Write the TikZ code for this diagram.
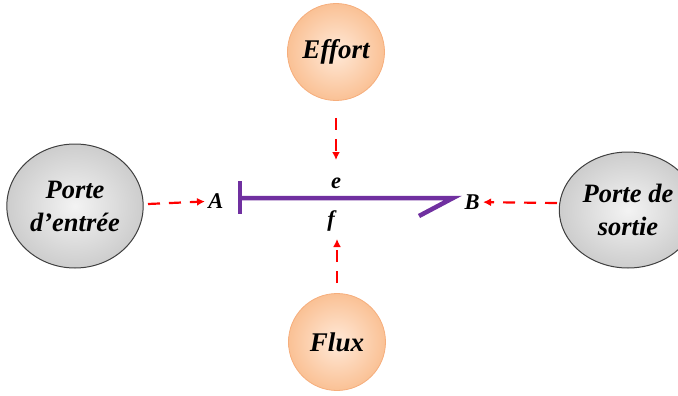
\documentclass[tikz,border=0pt]{standalone}
\usepackage{fontspec}
\setmainfont{Liberation Serif}
\usepackage{tikz}
\usetikzlibrary{positioning, arrows.meta, shapes.geometric}
\definecolor{peachin}{HTML}{FFE9D8}
\definecolor{peachout}{HTML}{FAC195}
\definecolor{peachline}{HTML}{F6AE7C}
\definecolor{greyin}{HTML}{F3F3F3}
\definecolor{greyout}{HTML}{CDCDCD}
\definecolor{bondcol}{HTML}{7030A0}

\begin{document}
\begin{tikzpicture}[
    x=1pt, y=-1pt,
    every node/.style={font=\bfseries\itshape},
    orangeball/.style={circle, draw=peachline, line width=0.8pt, inner color=peachin, outer color=peachout, minimum size=97pt, align=center, font=\fontsize{27}{29}\selectfont\bfseries\itshape},
    greyball/.style={ellipse, draw=black!75, line width=1pt, inner color=greyin, outer color=greyout, minimum width=124pt, minimum height=124pt, align=center, font=\fontsize{26.5}{33}\selectfont\bfseries\itshape},
    portlbl/.style={font=\fontsize{22.5}{23}\selectfont\bfseries\itshape},
    bond/.style={draw=bondcol, line width=4.5pt},
    arr/.style={-{Latex[length=8pt, width=8pt]}, red, line width=2.2pt, dash pattern=on 12pt off 9pt}
]
\useasboundingbox (0,0) rectangle (678,396);

\node[orangeball] (effort) at (336,52) {Effort};
\node[orangeball] (flux) at (337,342) {Flux};
\node[greyball] (entree) at (75,206) {Porte\\d'entrée};
\node[greyball, minimum width=130pt, minimum height=116pt] (sortie) at (628,210) {Porte de\\sortie};

% bond
\coordinate (bl) at (240,198);
\coordinate (br) at (453,198);
\coordinate (bt) at (240,181);
\coordinate (bb) at (240,214);
\coordinate (hb) at (419,216);
\draw[bond] (bt) -- (bb);
\draw[bond, line join=miter] (bl) -- (br) -- (hb);

\node[portlbl] (A) at (216,201) {A};
\node[portlbl] (B) at (472,202) {B};
\node[portlbl] (e) at (336,183) {e};
\node[portlbl] (f) at (331,221) {f};

\coordinate (ein) at (336,160);
\coordinate (fin) at (337,239);
\coordinate (aout) at (148,204);
\coordinate (bout) at (557,203);
\draw[arr, shorten <=17pt] (effort) -- (ein);
\draw[arr, shorten <=10pt] (flux) -- (fin);
\draw[arr] (aout) -- (A);
\draw[arr] (bout) -- (B);
\end{tikzpicture}
\end{document}
